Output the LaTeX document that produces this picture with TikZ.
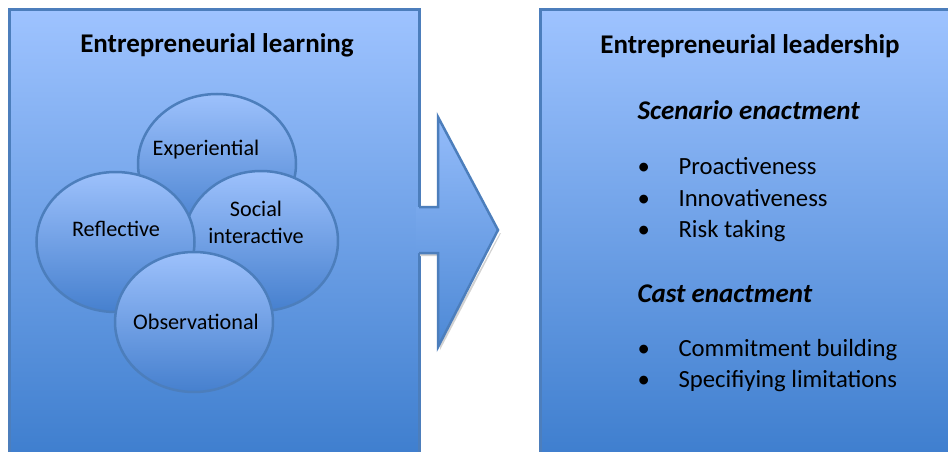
\documentclass[tikz,border=0pt]{standalone}
\usepackage{fontspec}
\setmainfont{Carlito}
\usetikzlibrary{shapes.geometric}
\definecolor{boxtop}{RGB}{158,195,255}
\definecolor{boxbot}{RGB}{62,126,206}
\definecolor{ringtop}{RGB}{157,193,252}
\definecolor{ringbot}{RGB}{70,128,206}
\definecolor{edgeblue}{RGB}{76,126,188}

\begin{document}
\begin{tikzpicture}[x=1pt,y=-1pt,
    panel/.style={draw=edgeblue,line width=3pt,top color=boxtop,bottom color=boxbot},
    blob/.style={ellipse,draw=edgeblue,line width=2.5pt,top color=ringtop,bottom color=ringbot,
        minimum width=158pt,minimum height=140pt,inner sep=0pt},
    heading/.style={font=\fontsize{27}{32}\selectfont\bfseries},
    sub/.style={font=\fontsize{27}{32}\selectfont\bfseries\itshape,anchor=base west},
    item/.style={font=\fontsize{24.7}{30}\selectfont,anchor=base west},
    lbl/.style={font=\fontsize{22.2}{27}\selectfont,align=center}]
\useasboundingbox (0,0) rectangle (948,452);
\fill[white] (0,0) rectangle (948,452);

% two panels
\draw[panel] (9,10) rectangle (419,458);
\draw[panel] (540,10) rectangle (958,458);

% arrow between panels
\fill[gray!35] (420,256) -- (440,256) -- (440,350) -- (501,233) -- (500,233) -- (438,347) -- (438,253) -- (420,253) -- cycle;
\shade[top color=boxtop!90!boxbot,bottom color=boxbot!85!boxtop]
    (416,207) -- (438,207) -- (438,117) -- (498,230) -- (438,347) -- (438,253) -- (416,253) -- cycle;
\draw[edgeblue,line width=2.5pt,line join=miter]
    (419,207) -- (438,207) -- (438,117) -- (498,230) -- (438,347) -- (438,253) -- (419,253);

% left panel
\node[heading] (learn) at (217,45) {Entrepreneurial learning};
\node[blob] (exp) at (217,164) {};
\node[blob,minimum width=154pt] (soc) at (261,241) {};
\node[blob] (refl) at (115.5,242) {};
\node[blob] (obs) at (194,322) {};
\node[lbl,anchor=base] (expt) at (206,155) {Experiential};
\node[lbl,anchor=base] (reflt) at (116,236) {Reflective};
\node[lbl,anchor=base] (soct) at (256,216) {Social};
\node[lbl,anchor=base] (soct2) at (256,243) {interactive};
\node[lbl,anchor=base] (obst) at (196,329) {Observational};

% right panel
\node[heading] (lead) at (750,46) {Entrepreneurial leadership};
\node[sub] (scen) at (634,119) {Scenario enactment};
\node[sub] (cast) at (634,302) {Cast enactment};
\foreach \y/\txt [count=\i] in {174/Proactiveness,206/Innovativeness,237/Risk taking,356/Commitment building,387/Specifiying limitations} {
    \node[item] (dot\i) at (634,\y) {•};
    \node[item] (it\i) at (675,\y) {\txt};
}
\end{tikzpicture}
\end{document}
